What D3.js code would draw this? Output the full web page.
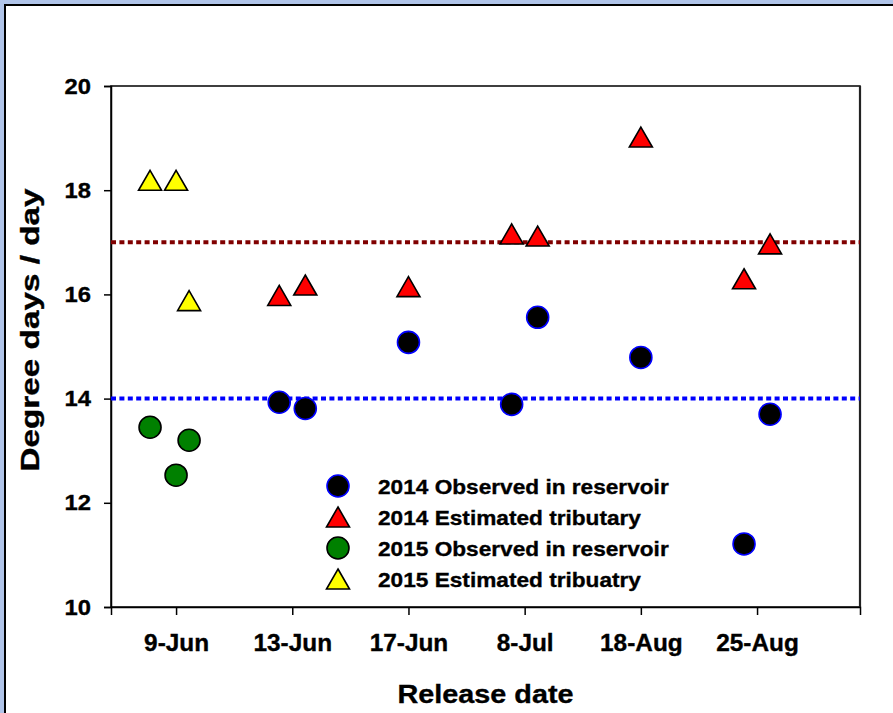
<!DOCTYPE html>
<html>
<head>
<meta charset="utf-8">
<script src="https://cdn.jsdelivr.net/npm/d3@7"></script>
<style>
  html, body { margin: 0; padding: 0; background: #ffffff; }
  svg { display: block; }
  text { font-family: "Liberation Sans", Arial, sans-serif; font-weight: bold; fill: #000; stroke: #000; stroke-width: 0.35px; }
</style>
</head>
<body>
<svg id="chart" width="893" height="713"></svg>
<script>
// Release dates on the x axis
const categories = ["9-Jun", "13-Jun", "17-Jun", "8-Jul", "18-Aug", "25-Aug"];
const yTicks = [10, 12, 14, 16, 18, 20];

// Each record: release date index, replicate slot within the date, degree days / day
const obs2014Cat = [1, 1, 2, 3, 3, 4, 5, 5];
const obs2014Slot = [-1, 1, 0, -1, 1, 0, -1, 1];
const obs2014Val = [13.93, 13.81, 15.08, 13.89, 15.56, 14.79, 11.21, 13.70];

const est2014Cat = [1, 1, 2, 3, 3, 4, 5, 5];
const est2014Slot = [-1, 1, 0, -1, 1, 0, -1, 1];
const est2014Val = [15.98, 16.18, 16.15, 17.16, 17.12, 19.02, 16.30, 16.97];

const obs2015Cat = [0, 0, 0];
const obs2015Slot = [-2, 0, 1];
const obs2015Val = [13.45, 12.53, 13.20];

const est2015Cat = [0, 0, 0];
const est2015Slot = [-2, 0, 1];
const est2015Val = [18.19, 18.19, 15.88];

// Reference thresholds
const refLines = [
  { value: 17, color: "#800000" },
  { value: 14, color: "#0000ff" }
];

const legendLabels = [
  "2014 Observed in reservoir",
  "2014 Estimated tributary",
  "2015 Observed in reservoir",
  "2015 Estimated tribuatry"
];

const zip = (c, s, v) => c.map((d, i) => ({ cat: d, slot: s[i], value: v[i] }));
const series = [
  { label: legendLabels[0], shape: "circle", fill: "#000000", stroke: "#0000ff", data: zip(obs2014Cat, obs2014Slot, obs2014Val) },
  { label: legendLabels[1], shape: "triangle", fill: "#ff0000", stroke: "#000000", data: zip(est2014Cat, est2014Slot, est2014Val) },
  { label: legendLabels[2], shape: "circle", fill: "#008000", stroke: "#000000", data: zip(obs2015Cat, obs2015Slot, obs2015Val) },
  { label: legendLabels[3], shape: "triangle", fill: "#ffff00", stroke: "#000000", data: zip(est2015Cat, est2015Slot, est2015Val) }
];

const svg = d3.select("#chart");
const W = 893, H = 713;

// Widen text glyphs horizontally by a factor
function widen(sel, factor) {
  sel.each(function () {
    const n = this.getComputedTextLength();
    d3.select(this).attr("textLength", n * factor).attr("lengthAdjust", "spacingAndGlyphs");
  });
}

// Outer frame: light blue band with black edge
svg.append("rect").attr("x", 0).attr("y", 0).attr("width", W).attr("height", H).attr("fill", "#b0c4e9");
svg.append("rect").attr("x", 5).attr("y", 5).attr("width", W + 10).attr("height", H + 10)
  .attr("fill", "#ffffff").attr("stroke", "#000000").attr("stroke-width", 2);

const plot = { left: 111, right: 860, top: 86, bottom: 607 };

const x = d3.scaleLinear().domain([-0.56, 5.886]).range([plot.left, plot.right]);
const slotStep = 0.112;
const y = d3.scaleLinear().domain([10, 20]).range([plot.bottom, plot.top]);

// Plot frame
svg.append("rect")
  .attr("x", plot.left).attr("y", plot.top)
  .attr("width", plot.right - plot.left).attr("height", plot.bottom - plot.top)
  .attr("fill", "none").attr("stroke", "#000").attr("stroke-width", 1.5);
svg.append("line")
  .attr("x1", plot.right).attr("x2", plot.right).attr("y1", plot.top).attr("y2", plot.bottom)
  .attr("stroke", "#222").attr("stroke-width", 2.2);

// Y axis
const yAxis = d3.axisLeft(y).tickValues(yTicks).tickSize(7).tickPadding(13).tickFormat(d3.format("d"));
const gy = svg.append("g").attr("transform", `translate(${plot.left},0)`).call(yAxis);
gy.select(".domain").attr("stroke", "#000").attr("stroke-width", 1.5);
gy.selectAll(".tick line").attr("stroke", "#000").attr("stroke-width", 1.5);
gy.selectAll(".tick text").attr("font-size", 22).attr("font-family", "Liberation Sans, Arial, sans-serif")
  .attr("font-weight", "bold").attr("fill", "#000").call(widen, 1.08);

// X axis
const xAxis = d3.axisBottom(x).tickValues(d3.range(categories.length)).tickSize(8).tickPadding(20)
  .tickFormat(i => categories[i]);
const gx = svg.append("g").attr("transform", `translate(0,${plot.bottom})`).call(xAxis);
gx.select(".domain").attr("stroke", "#000").attr("stroke-width", 1.5);
gx.selectAll(".tick line").attr("stroke", "#000").attr("stroke-width", 1.5);
gx.selectAll(".tick text").attr("font-size", 23).attr("font-family", "Liberation Sans, Arial, sans-serif")
  .attr("font-weight", "bold").attr("fill", "#000").call(widen, 1.06);

// Axis titles
svg.append("text")
  .attr("x", (plot.left + plot.right) / 2).attr("y", 703)
  .attr("text-anchor", "middle").attr("font-size", 26)
  .attr("textLength", 176).attr("lengthAdjust", "spacingAndGlyphs")
  .text("Release date");
svg.append("text")
  .attr("transform", `translate(39,330) rotate(-90)`)
  .attr("text-anchor", "middle").attr("font-size", 26)
  .attr("textLength", 283).attr("lengthAdjust", "spacingAndGlyphs")
  .text("Degree days / day");

// Threshold lines
svg.selectAll(".ref").data(refLines).enter().append("line")
  .attr("x1", plot.left).attr("x2", plot.right)
  .attr("y1", d => y(d.value)).attr("y2", d => y(d.value))
  .attr("stroke", d => d.color).attr("stroke-width", 4)
  .attr("stroke-dasharray", "5,3.4");

// Marker shapes
const triPath = (w, h) => `M0,${-h / 2}L${w / 2},${h / 2}L${-w / 2},${h / 2}Z`;
function drawMarker(sel, s) {
  if (s.shape === "circle") {
    sel.append("circle").attr("r", 11)
      .attr("fill", s.fill).attr("stroke", s.stroke).attr("stroke-width", 1.6);
  } else {
    sel.append("path").attr("d", triPath(23, 20))
      .attr("fill", s.fill).attr("stroke", s.stroke).attr("stroke-width", 1.6)
      .attr("stroke-linejoin", "miter");
  }
}

// Data points
series.forEach(s => {
  svg.append("g").selectAll("g").data(s.data).enter().append("g")
    .attr("transform", d => `translate(${x(d.cat + d.slot * slotStep)},${y(d.value)})`)
    .each(function () { drawMarker(d3.select(this), s); });
});

// Legend
const legend = svg.append("g").attr("transform", "translate(338,486)");
series.forEach((s, i) => {
  const row = legend.append("g").attr("transform", `translate(0,${i * 31})`);
  drawMarker(row, s);
  row.append("text").attr("x", 40).attr("y", 8).attr("font-size", 21)
    .text(s.label)
    .call(widen, 1.078);
});
</script>
</body>
</html>
